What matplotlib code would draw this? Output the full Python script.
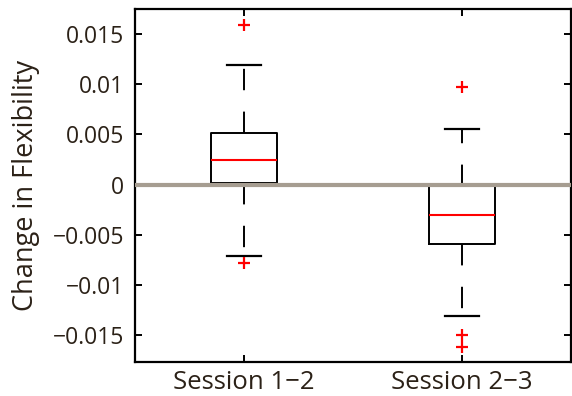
import matplotlib
matplotlib.use("Agg")
import matplotlib.pyplot as plt

# Summary statistics for each session pair
labels = ["Session 1\u22122", "Session 2\u22123"]
medians = [0.0024, -0.0030]
q1 = [0.0002, -0.0059]
q3 = [0.0051, -0.0001]
whisker_low = [-0.0071, -0.0131]
whisker_high = [0.0119, 0.0055]
outliers = [[0.0159, -0.0078], [0.0097, -0.0150, -0.0162]]

yticks = [-0.015, -0.01, -0.005, 0, 0.005, 0.01, 0.015]
yticklabels = ["\u22120.015", "\u22120.01", "\u22120.005", "0", "0.005", "0.01", "0.015"]

text_color = "#2b2117"
plt.rcParams["font.family"] = ["Open Sans", "DejaVu Sans"]

fig = plt.figure(figsize=(5.72, 3.96), dpi=100)
ax = fig.add_axes([0.236, 0.086, 0.762, 0.891])

stats = []
for i in range(len(labels)):
    stats.append(dict(med=medians[i], q1=q1[i], q3=q3[i],
                      whislo=whisker_low[i], whishi=whisker_high[i],
                      fliers=outliers[i], label=labels[i]))

ax.bxp(stats, positions=[1, 2], widths=0.3, capwidths=0.155,
       boxprops=dict(color="black", linewidth=1.4),
       whiskerprops=dict(color="black", linewidth=1.4, linestyle=(0, (11, 11))),
       capprops=dict(color="black", linewidth=1.6),
       medianprops=dict(color="#ff0000", linewidth=1.5),
       flierprops=dict(marker="+", markeredgecolor="#ff0000", markersize=8,
                       markeredgewidth=1.6, linestyle="none"))

ax.axhline(0, color="#a69d91", linewidth=3.0, zorder=5)

ax.set_xlim(0.5, 2.5)
ax.set_ylim(-0.0177, 0.0175)
ax.set_yticks(yticks)
ax.set_yticklabels(yticklabels)
ax.set_xticks([1, 2])
ax.set_xticklabels(labels)

ax.tick_params(direction="in", length=5, width=1.4, colors="black",
               labelcolor=text_color, top=True, right=True, pad=8)
ax.tick_params(axis="y", labelsize=16.5)
ax.tick_params(axis="x", labelsize=18.5, pad=6)
for s in ax.spines.values():
    s.set_linewidth(1.6)

ax.set_ylabel("Change in Flexibility", fontsize=19.5, color=text_color, labelpad=9)

fig.savefig("out.png", dpi=100)
